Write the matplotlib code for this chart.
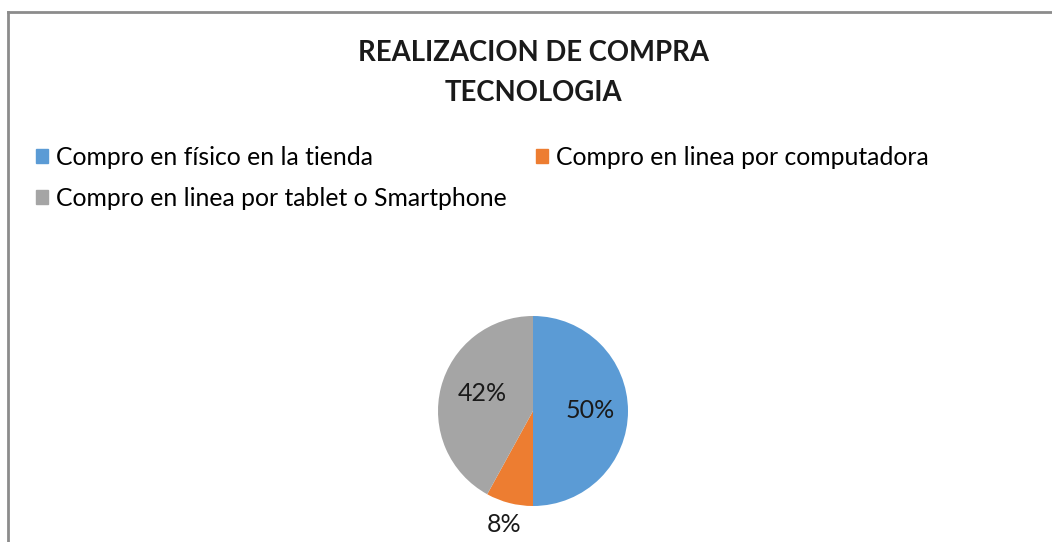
import matplotlib
matplotlib.use("Agg")
import matplotlib.pyplot as plt
from matplotlib.patches import Rectangle
from matplotlib.lines import Line2D
import numpy as np

# datos
categorias = ["Compro en físico en la tienda",
              "Compro en linea por computadora",
              "Compro en linea por tablet o Smartphone"]
porcentajes = [50, 8, 42]
colores = ["#5B9BD5", "#ED7D31", "#A5A5A5"]
titulo = "REALIZACION DE COMPRA\nTECNOLOGIA"

plt.rcParams['font.family'] = ['Lato', 'DejaVu Sans']

W, H = 1052, 542
fig = plt.figure(figsize=(W / 100, H / 100), dpi=100)
fig.patch.set_facecolor("white")

# borde del area del grafico (arriba e izquierda)
fig.add_artist(Line2D([8 / W, 8 / W], [0, 1 - 12 / H], color="#8c8c8c", lw=2,
                      transform=fig.transFigure))
fig.add_artist(Line2D([8 / W, 1], [1 - 12 / H, 1 - 12 / H], color="#8c8c8c", lw=2,
                      transform=fig.transFigure))

fig.text(533 / W, 1 - 73 / H, titulo, ha="center", va="center", fontsize=19.8,
         fontweight="bold", linespacing=1.65, color="#1a1a1a")

# pastel
cx, cy, r = 533, 411, 95
ax = fig.add_axes([(cx - r) / W, (H - cy - r) / H, 2 * r / W, 2 * r / H])
wedges, textos, autotextos = ax.pie(porcentajes, colors=colores, startangle=90,
                                    counterclock=False, autopct="%1.0f%%",
                                    pctdistance=0.6,
                                    textprops={"fontsize": 18, "color": "#1a1a1a"})
ax.set_xlim(-1, 1)
ax.set_ylim(-1, 1)
ax.set_aspect("equal")
ax.axis("off")

# la etiqueta pequena va fuera del pastel
w = wedges[1]
ang = np.deg2rad((w.theta1 + w.theta2) / 2)
autotextos[1].set_position((1.23 * np.cos(ang), 1.23 * np.sin(ang)))
w = wedges[2]
ang = np.deg2rad((w.theta1 + w.theta2) / 2 - 5)
autotextos[2].set_position((0.57 * np.cos(ang), 0.57 * np.sin(ang)))

# leyenda por filas: el orden [0, 2, 1] llena la primera columna con azul y gris
orden = [0, 2, 1]
handles = [Rectangle((0, 0), 1, 1, color=colores[i]) for i in orden]
fig.legend(handles, [categorias[i] for i in orden], ncol=2, loc="upper left",
           bbox_to_anchor=(26 / W, 1 - 136 / H), frameon=False, fontsize=17.8,
           handlelength=0.5, handleheight=0.5, handletextpad=0.33,
           columnspacing=1.15, labelspacing=0.74, borderaxespad=0)

fig.savefig("out.png", dpi=100, facecolor="white")
